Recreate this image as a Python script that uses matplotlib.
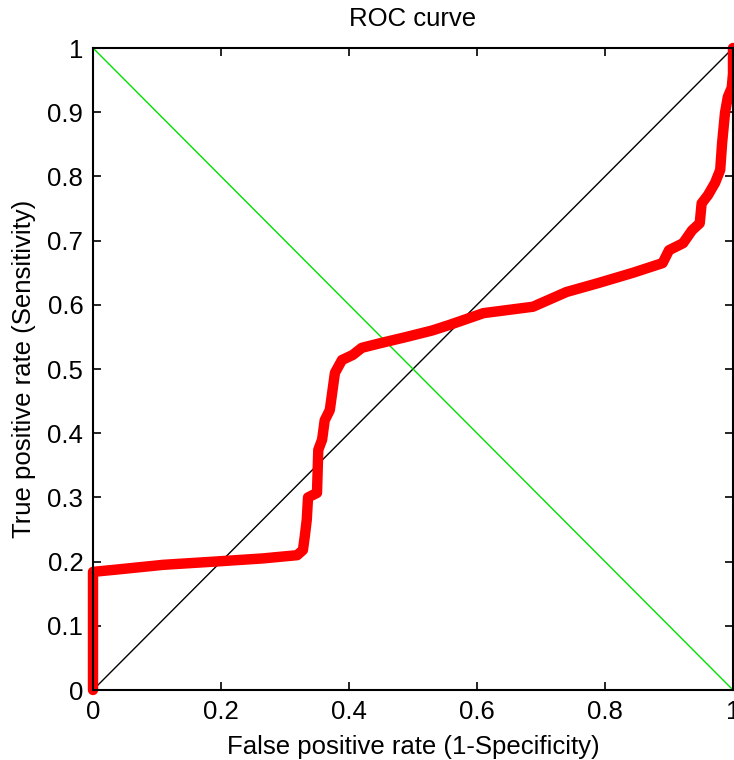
import matplotlib
matplotlib.use("Agg")
import matplotlib.pyplot as plt

fpr = [0.0, 0.0, 0.0, 0.031, 0.11, 0.19, 0.266, 0.319, 0.328, 0.331, 0.334, 0.336, 0.35,
       0.352, 0.358, 0.362, 0.37, 0.378, 0.389, 0.406, 0.42, 0.448, 0.49, 0.53, 0.558,
       0.61, 0.6875, 0.74, 0.79, 0.844, 0.89, 0.90, 0.922, 0.936, 0.948, 0.951, 0.961,
       0.972, 0.98, 0.983, 0.9875, 0.992, 0.998, 1.0, 1.0]
tpr = [0.0, 0.1, 0.184, 0.187, 0.195, 0.2, 0.205, 0.21, 0.218, 0.24, 0.265, 0.30, 0.307,
       0.374, 0.39, 0.42, 0.436, 0.494, 0.514, 0.522, 0.533, 0.54, 0.55, 0.56, 0.569,
       0.587, 0.597, 0.62, 0.634, 0.65, 0.665, 0.685, 0.696, 0.716, 0.727, 0.758, 0.771,
       0.79, 0.81, 0.852, 0.899, 0.924, 0.938, 0.96, 1.0]

ticks = [0, 0.2, 0.4, 0.6, 0.8, 1]
tick_labels = ["0", "0.2", "0.4", "0.6", "0.8", "1"]
yticks = [0, 0.1, 0.2, 0.3, 0.4, 0.5, 0.6, 0.7, 0.8, 0.9, 1]
ytick_labels = ["0", "0.1", "0.2", "0.3", "0.4", "0.5", "0.6", "0.7", "0.8", "0.9", "1"]

plt.rcParams['font.family'] = ['Liberation Sans', 'DejaVu Sans']

fig = plt.figure(figsize=(7.34, 7.6), dpi=100)
ax = fig.add_axes([93/734, 70/760, 640/734, 642/760])

ax.plot([0, 1], [0, 1], color='black', lw=1.0)
ax.plot([0, 1], [1, 0], color='#00e000', lw=1.0)
ax.plot(fpr, tpr, color='red', lw=7.5, solid_capstyle='round', solid_joinstyle='round',
        clip_on=False)

ax.set_xlim(0, 1)
ax.set_ylim(0, 1)
ax.set_xticks(ticks)
ax.set_xticklabels(tick_labels)
ax.set_yticks(yticks)
ax.set_yticklabels(ytick_labels)
ax.tick_params(direction='in', top=True, right=True, labelsize=18.5, length=6, width=1.2, pad=7)
for s in ax.spines.values():
    s.set_linewidth(1.5)

ax.set_title("ROC curve", fontsize=18.5, pad=16)
ax.set_xlabel("False positive rate (1-Specificity)", fontsize=18.5, labelpad=8)
ax.set_ylabel("True positive rate (Sensitivity)", fontsize=18.5, labelpad=8)

fig.savefig("out.png", dpi=100)
